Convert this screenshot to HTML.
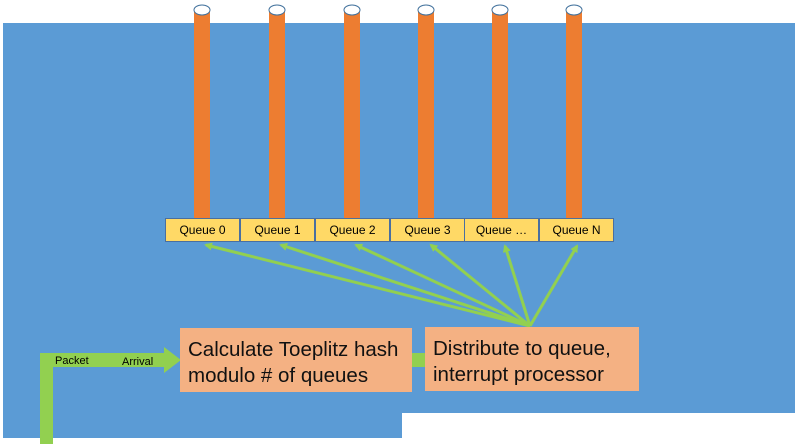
<!DOCTYPE html>
<html><head><style>
body{margin:0;width:802px;height:444px;background:#fff;position:relative;overflow:hidden;font-family:"Liberation Sans",sans-serif}
.blue{position:absolute;left:3px;top:23px;width:792px;height:415px;background:#5b9bd5}
.wh{position:absolute;left:402px;top:413px;width:400px;height:31px;background:#fff}
.box{position:absolute;background:#f4b183;color:#111;font-size:20.5px;line-height:26px;padding:9px 8px 0 8px;box-sizing:border-box;white-space:nowrap}
.q{position:absolute;top:218px;height:24px;width:75px;background:#ffd966;border:1px solid #4a6fa0;box-sizing:border-box;font-size:12px;text-align:center;line-height:22px}
</style></head><body>
<div class="blue"></div><div class="wh"></div>
<svg width="802" height="444" style="position:absolute;left:0;top:0">
<g fill="#ed7d31">
<rect x="194" y="10" width="16" height="209"/><rect x="269" y="10" width="16" height="209"/><rect x="344" y="10" width="16" height="209"/><rect x="418" y="10" width="16" height="209"/><rect x="492" y="10" width="16" height="209"/><rect x="566" y="10" width="16" height="209"/>
</g>
<g fill="#fff" stroke="#41719c" stroke-width="1">
<ellipse cx="202" cy="10" rx="8" ry="5"/><ellipse cx="277" cy="10" rx="8" ry="5"/><ellipse cx="352" cy="10" rx="8" ry="5"/><ellipse cx="426" cy="10" rx="8" ry="5"/><ellipse cx="500" cy="10" rx="8" ry="5"/><ellipse cx="574" cy="10" rx="8" ry="5"/>
</g>
<defs><marker id="a" markerWidth="8" markerHeight="8" refX="6" refY="4" orient="auto" markerUnits="userSpaceOnUse"><path d="M0,0L8,4L0,8z" fill="#92d050"/></marker></defs>
<g stroke="#92d050" stroke-width="3" marker-end="url(#a)">
<line x1="530" y1="326" x2="206" y2="245"/><line x1="530" y1="326" x2="281" y2="245"/><line x1="530" y1="326" x2="356" y2="245"/><line x1="530" y1="326" x2="431" y2="245"/><line x1="530" y1="326" x2="505" y2="246"/><line x1="530" y1="326" x2="577" y2="246"/>
</g>
<rect x="40" y="353" width="13" height="91" fill="#92d050"/>
<rect x="40" y="353" width="125" height="14" fill="#92d050"/>
<path d="M164,347L181,360L164,373z" fill="#92d050"/>
<rect x="410" y="353" width="18" height="14" fill="#92d050"/>
<text x="55" y="364" font-size="11" font-family="Liberation Sans">Packet</text>
<text x="122" y="365" font-size="11" font-family="Liberation Sans">Arrival</text>
</svg>
<div class="q" style="left:165px">Queue 0</div><div class="q" style="left:240px">Queue 1</div><div class="q" style="left:315px">Queue 2</div><div class="q" style="left:390px">Queue 3</div><div class="q" style="left:464px">Queue …</div><div class="q" style="left:539px">Queue N</div>
<div class="box" style="left:180px;top:328px;width:232px;height:64px">Calculate Toeplitz hash<br>modulo # of queues</div>
<div class="box" style="left:425px;top:327px;width:214px;height:64px">Distribute to queue,<br>interrupt processor</div>
</body></html>
